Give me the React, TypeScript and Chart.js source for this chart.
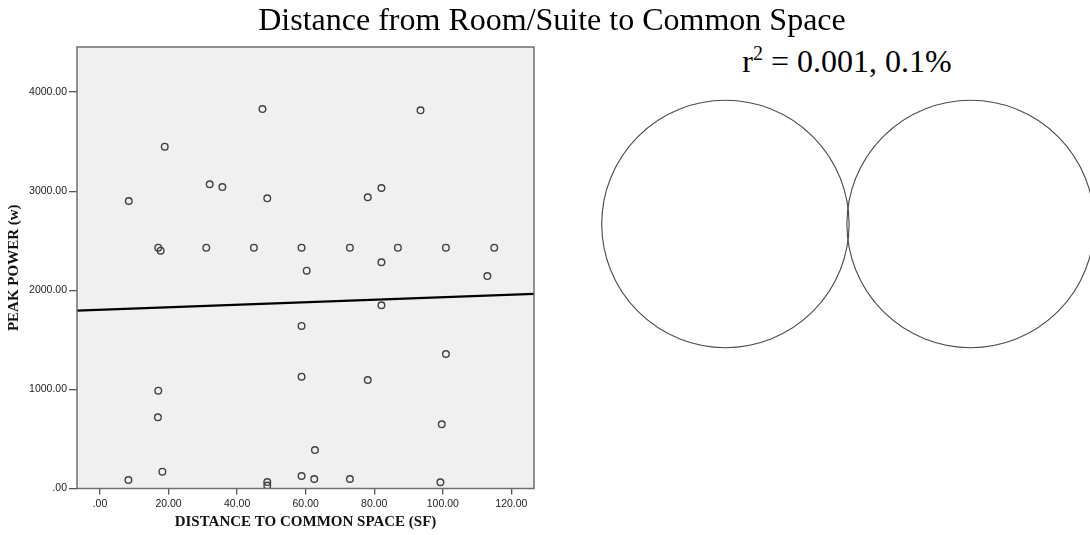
import React, { useEffect, useRef } from 'react';
import { Chart, registerables } from 'chart.js';

Chart.register(...registerables);

// ---- Data ----
const distance = [
  47.4, 18.9, 32.0, 35.7, 8.4, 48.8, 17.0, 17.7, 31.0, 44.9,
  93.5, 78.1, 82.1, 58.8, 72.9, 86.9, 100.9, 115.0, 60.3, 82.1,
  113.0, 17.0, 16.9, 82.1, 58.8, 100.9, 58.8, 78.1, 99.7, 62.7,
  8.3, 18.2, 48.8, 48.8, 58.8, 62.5, 72.9, 99.3,
];
const peakPower = [
  3829, 3449, 3070, 3042, 2901, 2928, 2430, 2400, 2430, 2430,
  3816, 2938, 3032, 2430, 2430, 2430, 2430, 2430, 2198, 2283,
  2144, 987, 718, 1849, 1640, 1357, 1128, 1095, 648, 388,
  86, 170, 65, 30, 126, 96, 96, 63,
];
const xTicks = [0, 20, 40, 60, 80, 100, 120];
const yTicks = [0, 1000, 2000, 3000, 4000];
const xRange = [-6.7, 126.6];
const yRange = [0, 4455];
const fitIntercept = 1804;
const fitSlope = 1.26;

const vennLabels = ['DISTANCE TO COMMON SPACE (SF)', 'PEAK POWER (w)'];
const vennAreas = [1, 1];
const rSquared = 0.001;

const titleText = 'Distance from Room/Suite to Common Space';
const xTitle = 'DISTANCE TO COMMON SPACE (SF)';
const yTitle = 'PEAK POWER (w)';

const tickLabel = (v: number) => (v === 0 ? '.00' : v.toFixed(2));

// geometry of the Venn diagram (equal circles whose overlap equals r²)
const vennRadius = Math.sqrt(vennAreas[0] / Math.PI);
function lensArea(d: number, r: number) {
  if (d >= 2 * r) return 0;
  return 2 * r * r * Math.acos(d / (2 * r)) - (d / 2) * Math.sqrt(4 * r * r - d * d);
}
function centerDistance() {
  const target = rSquared * vennAreas[0];
  let lo = 0;
  let hi = 2 * vennRadius;
  for (let i = 0; i < 80; i++) {
    const mid = (lo + hi) / 2;
    if (lensArea(mid, vennRadius) > target) lo = mid;
    else hi = mid;
  }
  return (lo + hi) / 2;
}

const plotFrame = {
  id: 'plotFrame',
  beforeDraw(chart: any) {
    const { ctx, chartArea: a } = chart;
    ctx.save();
    ctx.fillStyle = '#f0f0f0';
    ctx.fillRect(a.left, a.top, a.right - a.left, a.bottom - a.top);
    ctx.restore();
  },
  afterDraw(chart: any) {
    const { ctx, chartArea: a } = chart;
    ctx.save();
    ctx.strokeStyle = '#6e6e6e';
    ctx.lineWidth = 1.5;
    ctx.strokeRect(a.left, a.top, a.right - a.left, a.bottom - a.top);
    ctx.restore();
  },
};

function ScatterChart() {
  const ref = useRef<HTMLCanvasElement>(null);
  useEffect(() => {
    const tickFont = { family: "'Liberation Sans', Arial, sans-serif", size: 10.5 };
    const titleFont = { family: "'Liberation Serif', 'Times New Roman', serif", size: 15, weight: 'bold' as const };
    const chart = new Chart(ref.current!, {
      type: 'scatter',
      data: {
        datasets: [
          {
            label: 'Observed',
            data: distance.map((x, i) => ({ x, y: peakPower[i] })),
            pointRadius: 3.3,
            pointBorderWidth: 1.4,
            pointBorderColor: '#404040',
            pointBackgroundColor: 'rgba(0,0,0,0)',
            showLine: false,
          },
          {
            label: 'Linear fit',
            data: xRange.map((x) => ({ x, y: fitIntercept + fitSlope * x })),
            showLine: true,
            borderColor: '#000',
            borderWidth: 2.2,
            pointRadius: 0,
          },
        ],
      },
      options: {
        animation: false,
        responsive: false,
        events: [],
        layout: { padding: { top: 47, right: 26, left: 0, bottom: 0 } },
        plugins: { legend: { display: false }, tooltip: { enabled: false } },
        scales: {
          x: {
            type: 'linear',
            min: xRange[0],
            max: xRange[1],
            afterFit: (s: any) => { s.height = 46.5; },
            afterBuildTicks: (s: any) => { s.ticks = xTicks.map((value) => ({ value })); },
            ticks: { callback: (v: any) => tickLabel(+v), font: tickFont, color: '#222', padding: 3, maxRotation: 0, autoSkip: false },
            grid: { display: true, drawOnChartArea: false, drawTicks: true, tickLength: 6, color: '#555', lineWidth: 1.3 },
            border: { display: false },
            title: { display: true, text: xTitle, font: titleFont, color: '#111', padding: { top: 0, bottom: 4 } },
          },
          y: {
            type: 'linear',
            min: yRange[0],
            max: yRange[1],
            afterFit: (s: any) => { s.width = 77; },
            afterBuildTicks: (s: any) => { s.ticks = yTicks.map((value) => ({ value })); },
            ticks: { callback: (v: any) => tickLabel(+v), font: tickFont, color: '#222', padding: 2, autoSkip: false },
            grid: { display: true, drawOnChartArea: false, drawTicks: true, tickLength: 8, color: '#555', lineWidth: 1.3 },
            border: { display: false },
            title: { display: true, text: yTitle, font: titleFont, color: '#111', padding: { top: 5, bottom: 0 } },
          },
        },
      },
      plugins: [plotFrame],
    } as any);
    return () => chart.destroy();
  }, []);
  return (
    <canvas
      ref={ref}
      width={560}
      height={535}
      style={{ position: 'absolute', left: 0, top: 0, width: 560, height: 535, display: 'block' }}
    />
  );
}

function VennChart() {
  const ref = useRef<HTMLCanvasElement>(null);
  useEffect(() => {
    const d = centerDistance();
    const chart = new Chart(ref.current!, {
      type: 'scatter',
      data: {
        labels: vennLabels,
        datasets: [
          {
            label: 'Shared variance',
            data: [{ x: -d / 2, y: 0 }, { x: d / 2, y: 0 }],
            pointRadius: (ctx: any) => {
              const s = ctx.chart.scales.x;
              return Math.abs(s.getPixelForValue(vennRadius) - s.getPixelForValue(0));
            },
            pointBorderColor: '#4a4a4a',
            pointBorderWidth: 1.1,
            pointBackgroundColor: 'rgba(0,0,0,0)',
            clip: false,
          },
        ],
      },
      options: {
        animation: false,
        responsive: false,
        events: [],
        layout: { padding: 0 },
        plugins: { legend: { display: false }, tooltip: { enabled: false } },
        scales: {
          x: { type: 'linear', display: false, min: -1.186, max: 1.186 },
          y: { type: 'linear', display: false, min: -0.593, max: 0.593 },
        },
      },
    } as any);
    return () => chart.destroy();
  }, []);
  return (
    <canvas
      ref={ref}
      width={520}
      height={260}
      style={{ position: 'absolute', left: 588, top: 94, width: 520, height: 260, display: 'block' }}
    />
  );
}

export default function App() {
  const serif = "'Liberation Serif', 'Times New Roman', serif";
  return (
    <div style={{ position: 'absolute', left: 0, top: 0, width: 1090, height: 535, overflow: 'hidden', background: '#fff' }}>
      <ScatterChart />
      <VennChart />
      <div
        style={{
          position: 'absolute', left: 252, top: 2.5, width: 600, textAlign: 'center',
          fontFamily: serif, fontSize: 32, lineHeight: '32px', color: '#000', whiteSpace: 'nowrap',
        }}
      >
        {titleText}
      </div>
      <div
        style={{
          position: 'absolute', left: 697, top: 45, width: 300, textAlign: 'center',
          fontFamily: serif, fontSize: 32, lineHeight: '32px', color: '#000', whiteSpace: 'nowrap',
        }}
      >
        r<span style={{ fontSize: 20, lineHeight: 0, position: 'relative', top: -12 }}>2</span>
        {` = ${rSquared.toFixed(3)}, ${(rSquared * 100).toFixed(1)}%`}
      </div>
    </div>
  );
}
